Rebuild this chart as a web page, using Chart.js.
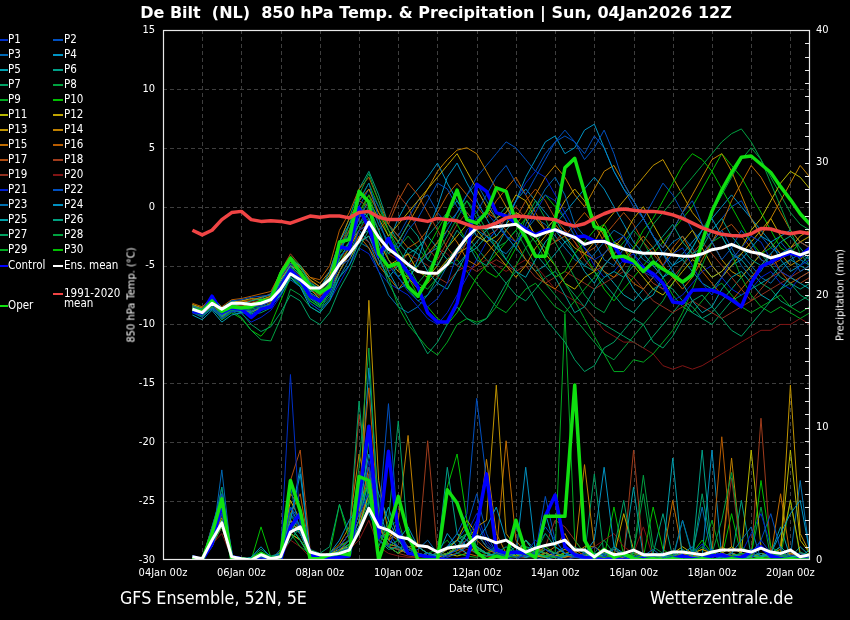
<!DOCTYPE html>
<html>
<head>
<meta charset="utf-8">
<title>De Bilt 850 hPa Temp. &amp; Precipitation</title>
<script src="https://cdn.jsdelivr.net/npm/chart.js@4.4.1/dist/chart.umd.min.js"></script>
<style>
html,body{margin:0;padding:0;background:#000;}
#wrap{position:relative;width:850px;height:620px;background:#000;overflow:hidden;}
#chart{position:absolute;left:0;top:0;}
.txt{position:absolute;white-space:pre;color:#fff;line-height:1;font-family:'DejaVu Sans Condensed','DejaVu Sans',sans-serif;}
#title{font:bold 16px 'DejaVu Sans',sans-serif;left:436px;top:3px;transform:translateX(-50%);}
#ytitleL,#ytitleR{font-size:11px;transform:translate(-50%,-50%) rotate(-90deg);}
#ytitleL{left:131px;top:295px;}
#ytitleR{left:840px;top:295px;}
#xtitle{font-size:11px;left:476px;top:583px;transform:translateX(-50%);}
#foot1{font-size:17.7px;left:120px;top:590px;}
#foot2{font-size:17.7px;left:650px;top:590px;}
.leg{position:absolute;font-size:11.5px;font-family:'DejaVu Sans Condensed','DejaVu Sans',sans-serif;color:#fff;white-space:pre;line-height:12px;}
.legline{position:absolute;height:2px;}
</style>
</head>
<body>
<div id="wrap">
<canvas id="chart" width="850" height="620"></canvas>
<div id="title" class="txt">De Bilt  (NL)  850 hPa Temp. &amp; Precipitation | Sun, 04Jan2026 12Z</div>
<div id="ytitleL" class="txt">850 hPa Temp. (°C)</div>
<div id="ytitleR" class="txt">Precipitation (mm)</div>
<div id="xtitle" class="txt">Date (UTC)</div>
<div id="foot1" class="txt">GFS Ensemble, 52N, 5E</div>
<div id="foot2" class="txt">Wetterzentrale.de</div>
<div id="legend"></div>
</div>
<script>
// ---------- time axis (hours after 04Jan 00z) ----------
const hours = [18,24,30,36,42,48,54,60,66,72,78,84,90,96,102,108,114,120,126,132,138,144,150,156,162,168,174,180,186,192,198,204,210,216,222,228,234,240,246,252,258,264,270,276,282,288,294,300,306,312,318,324,330,336,342,348,354,360,366,372,378,384,390,396];
const xTickLabels = ['04Jan 00z','06Jan 00z','08Jan 00z','10Jan 00z','12Jan 00z','14Jan 00z','16Jan 00z','18Jan 00z','20Jan 00z'];

// ---------- main series: 850 hPa temperature (°C) ----------
const operTemp = [-8.7,-8.9,-8.0,-8.9,-8.5,-8.6,-8.5,-8.0, -7.9,-5.7,-4.4,-5.6,-6.8,-7.3,-6.8,-3.0, -2.8,1.3,0.4,-4.0,-5.1,-4.8,-6.8,-7.6, -6.2,-3.9,-0.7,1.4,-1.1,-1.4,-0.5,1.6, 1.3,-1.3,-2.6,-4.2,-4.2,-1.2,3.3,4.1, 1.2,-1.7,-2.0,-4.3,-4.2,-4.6,-5.5,-4.7, -5.3,-5.8,-6.4,-5.8,-3.0,-0.4,1.4,2.9, 4.2,4.3,3.6,2.9,1.7,0.6,-0.6,-1.5];
const controlTemp = [-8.9,-9.0,-7.6,-9.0,-8.6,-8.7,-9.4,-8.7, -8.5,-6.9,-5.4,-6.2,-7.6,-8.0,-7.0,-3.4, -3.6,-0.1,-1.8,-4.2,-2.7,-4.5,-5.6,-6.8, -9.0,-9.8,-9.8,-8.2,-4.5,1.9,1.3,-0.5, -0.8,-1.4,-1.9,-2.4,-2.0,-1.95,-2.3,-2.6, -2.5,-2.9,-2.95,-3.3,-4.6,-4.75,-5.2,-5.7, -6.5,-8.1,-8.2,-7.1,-7.05,-7.1,-7.4,-7.9, -8.5,-6.5,-5.1,-4.7,-4.25,-3.95,-4.2,-3.5];
const meanTemp = [-8.7,-9.0,-8.2,-8.7,-8.2,-8.2,-8.3,-8.2, -7.9,-7.0,-5.7,-6.2,-6.9,-6.9,-6.2,-4.9, -4.0,-2.9,-1.3,-2.6,-3.6,-4.2,-4.9,-5.5, -5.65,-5.65,-4.9,-3.7,-2.6,-1.8,-1.75,-1.7, -1.6,-1.5,-2.1,-2.5,-2.2,-1.95,-2.3,-2.6, -3.2,-2.95,-2.95,-3.3,-3.6,-3.8,-3.95,-3.95, -4.0,-4.1,-4.2,-4.2,-4.0,-3.65,-3.5,-3.2, -3.55,-3.85,-4.0,-4.35,-4.1,-3.8,-4.1,-3.8];
const climTemp = [-2.0,-2.4,-2.0,-1.1,-0.5,-0.4,-1.1,-1.25, -1.2,-1.25,-1.4,-1.1,-0.8,-0.9,-0.8,-0.8, -0.95,-0.5,-0.4,-0.9,-1.1,-1.1,-0.95,-1.1, -1.25,-1.0,-1.1,-1.2,-1.5,-1.8,-1.7,-1.4, -0.95,-0.8,-0.85,-0.95,-1.0,-1.1,-1.45,-1.65, -1.45,-1.0,-0.6,-0.3,-0.2,-0.3,-0.4,-0.4, -0.5,-0.7,-1.0,-1.4,-1.8,-2.1,-2.35,-2.45, -2.5,-2.3,-1.85,-1.9,-2.15,-2.3,-2.15,-2.3];

// ---------- main series: 6-hourly precipitation (mm) ----------
const operPrec = [0.2,0,2.0,4.6,0.1,0.1,0,0.5, 0.1,0.25,6.0,3.7,0.1,0.1,0.4,0.5, 0.4,6.3,6.0,0,2.2,4.8,2.0,0, 0,0,5.3,4.3,2.2,0.6,0,0.3, 0.1,3.0,0.6,0.2,3.3,3.3,3.3,13.2, 1.5,0.2,0.8,0.2,0.5,0.1,0,0.1, 0,0.1,0,0,0.1,0,0,0.1, 0,0,0.1,0,0,0.1,0,0];
const controlPrec = [0.25,0,1.2,4.3,0.25,0.1,0,0, 0,0,2.5,3.5,0.4,0.1,0.1,0.2, 0.3,4.8,10.1,1.7,8.2,2.0,0.5,0.4, 0.25,0.1,0,0,0.1,2.5,6.5,0.75, 0.5,0.6,0.5,0.3,3.3,4.9,1.0,0.4, 0.2,0.1,0,0.1,0,0,0.1,0, 0,0.1,0.3,0.1,0.1,0.3,0.4,0.1, 0.2,0.6,1.0,0.3,0.1,0,0.1,0];
const meanPrec = [0.25,0.1,1.5,2.8,0.25,0.1,0,0.4, 0.1,0.25,2.1,2.5,0.6,0.4,0.4,0.5, 0.75,2.2,3.9,2.5,2.25,1.75,1.6,1.1, 1.0,0.6,0.9,1.0,1.1,1.75,1.6,1.3, 1.5,1.0,0.6,0.9,1.1,1.25,1.5,0.75, 0.75,0.25,0.75,0.4,0.5,0.75,0.4,0.4, 0.4,0.6,0.6,0.5,0.4,0.6,0.75,0.75, 0.75,0.6,0.9,0.6,0.5,0.75,0.25,0.4];

// ---------- ensemble members: temperature (°C) ----------
const T_P1 = [-8.8,-9.2,-8.3,-9.5,-8.9,-8.8,-8.6,-8.4, -8.0,-6.5,-5.2,-6.0,-7.5,-8.2,-7.2,-5.0, -4.5,-2.0,-1.5,-3.5,-5.0,-6.0,-7.2,-8.0, -8.5,-7.8,-6.5,-4.0,-2.0,-1.0,-0.5,-1.5, -2.5,-3.0,-2.0,-0.5,1.0,0.5,-1.0,-2.5, -3.5,-4.5,-4.0,-3.0,-2.5,-4.0,-5.5,-6.0, -5.0,-4.0,-3.5,-5.0,-6.5,-7.5,-6.0,-4.5, -3.5,-2.5,-3.0,-4.5,-5.5,-6.0,-5.0,-4.5];
const T_P2 = [-8.5,-8.8,-7.8,-8.8,-8.0,-7.9,-7.7,-7.6, -7.5,-6.0,-4.8,-5.5,-6.8,-7.4,-6.6,-4.2, -3.5,-1.0,0.5,-1.5,-3.0,-3.5,-2.0,-1.0, 0.5,2.0,1.5,0.0,-1.0,-0.5,1.0,2.5, 3.5,2.0,1.0,2.5,4.0,5.5,6.0,5.5, 4.0,5.0,6.5,4.5,2.0,0.5,-1.0,-2.5, -3.5,-2.0,-0.5,0.5,-1.5,-3.0,-4.5,-3.5, -2.0,-3.0,-4.5,-5.0,-4.0,-3.5,-4.5,-5.0];
const T_P3 = [-9.0,-9.4,-8.6,-9.2,-8.5,-8.7,-8.9,-8.5, -8.3,-7.2,-5.8,-6.4,-7.8,-8.0,-6.5,-3.5, -2.5,0.5,2.0,-1.0,-3.5,-4.5,-5.5,-5.0, -4.0,-3.5,-2.0,-0.5,1.0,2.0,0.5,-1.0, -2.5,-3.5,-1.5,0.0,1.5,2.5,1.0,-1.5, -2.5,-3.0,-4.5,-5.0,-3.5,-2.0,-1.0,-2.5, -4.0,-5.5,-6.5,-5.5,-4.0,-3.0,-2.0,-3.5, -5.0,-6.0,-5.5,-4.0,-3.0,-4.0,-5.5,-5.0];
const T_P4 = [-8.6,-9.0,-8.0,-8.9,-8.4,-8.2,-8.3,-8.1, -7.8,-6.4,-5.0,-5.8,-7.2,-7.0,-5.5,-3.0, -1.5,0.0,-1.0,-3.0,-5.5,-7.0,-6.5,-4.5, -2.0,0.0,2.5,3.7,2.0,0.5,-1.0,-2.5, -1.5,0.5,2.5,4.0,5.5,6.0,4.5,5.0, 6.5,7.0,5.0,3.0,1.5,0.5,-1.0,-2.5, -4.0,-5.0,-4.5,-3.5,-2.0,-1.0,-2.5,-4.0, -4.5,-3.5,-2.5,-3.0,-4.5,-5.5,-5.0,-4.0];
const T_P5 = [-9.2,-9.6,-8.8,-9.8,-9.2,-9.0,-9.1,-8.8, -8.5,-7.5,-6.0,-6.8,-8.5,-9.0,-8.0,-6.0, -5.0,-3.0,-2.5,-4.5,-6.0,-5.0,-3.5,-4.0, -5.5,-6.5,-7.0,-5.5,-4.0,-3.5,-2.5,-3.0, -4.5,-5.5,-6.0,-4.5,-3.0,-2.0,-3.0,-4.0, -5.5,-6.5,-5.0,-4.0,-5.5,-7.0,-8.0,-7.5, -6.0,-5.5,-6.5,-8.0,-9.0,-8.5,-7.0,-6.0, -5.5,-6.5,-7.5,-8.0,-7.0,-6.0,-6.5,-7.0];
const T_P6 = [-8.4,-8.7,-7.6,-8.6,-8.0,-8.3,-8.0,-7.8, -7.4,-5.8,-4.5,-5.0,-6.5,-7.0,-6.0,-4.5, -3.0,-1.5,0.0,-2.0,-4.0,-3.0,-1.5,-2.5, -4.5,-5.0,-3.5,-2.0,-3.0,-4.5,-5.0,-3.5, -2.0,-1.0,-2.5,-4.0,-5.0,-6.0,-7.5,-9.0, -8.5,-7.0,-6.0,-5.5,-6.0,-5.0,-4.0,-3.5, -2.5,-1.5,-3.0,-4.0,-3.5,-2.0,-1.0,-2.5, -3.5,-4.5,-5.0,-4.0,-3.0,-2.5,-3.5,-4.5];
const T_P7 = [-8.7,-9.1,-8.4,-9.4,-8.7,-9.0,-10.0,-10.6, -10.2,-9.0,-7.5,-8.0,-9.5,-10.0,-9.0,-7.0, -5.5,-3.5,-2.0,-4.0,-6.5,-8.0,-9.5,-11.0, -12.5,-11.5,-10.0,-8.5,-9.5,-10.0,-9.5,-8.0, -6.5,-5.5,-6.5,-8.0,-9.5,-10.5,-11.5,-13.0, -14.0,-13.5,-12.0,-11.5,-10.5,-9.5,-10.0,-11.5, -12.0,-11.0,-9.5,-8.0,-7.5,-8.5,-9.5,-10.5, -11.0,-10.0,-9.0,-8.0,-7.0,-6.5,-7.5,-8.0];
const T_P8 = [-8.9,-9.3,-8.5,-9.1,-8.8,-9.4,-10.5,-11.3, -11.4,-9.5,-7.0,-7.5,-8.5,-9.0,-7.0,-4.0, -1.5,1.0,2.8,0.5,-2.0,-3.5,-5.0,-6.5, -5.5,-4.0,-2.5,-1.0,0.5,-0.5,-2.0,-3.5, -4.5,-3.0,-1.0,0.5,-1.0,-3.0,-4.5,-6.0, -7.5,-8.5,-9.0,-7.5,-6.0,-4.5,-3.0,-1.5, -0.5,0.5,1.5,2.5,3.5,4.5,5.5,6.2, 6.6,5.5,4.0,2.0,0.0,-2.0,-4.0,-5.0];
const T_P9 = [-8.6,-9.0,-8.2,-9.0,-8.4,-8.5,-8.4,-8.2, -8.0,-6.0,-4.2,-5.0,-6.6,-7.2,-6.2,-4.0, -3.0,-1.5,-1.0,-3.5,-6.0,-8.5,-10.0,-11.0, -12.0,-12.6,-11.5,-10.0,-9.5,-9.8,-9.5,-8.5, -7.0,-5.0,-3.5,-2.5,-3.5,-5.0,-6.5,-8.0, -9.5,-11.0,-12.5,-14.0,-14.0,-13.0,-13.2,-12.5, -11.5,-10.5,-9.0,-7.0,-5.0,-3.0,-2.5,-4.0, -6.0,-7.5,-8.5,-9.0,-8.5,-9.0,-9.5,-9.0];
const T_P10 = [-8.8,-9.2,-8.4,-9.6,-9.0,-9.5,-10.5,-11.0, -10.0,-8.0,-6.0,-6.6,-8.0,-8.5,-7.0,-4.5, -3.0,-0.5,1.0,-1.5,-3.0,-4.5,-6.0,-5.0, -3.5,-2.0,-0.5,-1.5,-3.0,-4.0,-5.5,-6.0, -5.0,-3.5,-2.0,-3.0,-4.5,-6.0,-5.5,-4.0, -3.0,-2.0,-1.5,-3.0,-4.5,-3.5,-2.0,-1.0, 0.5,2.0,3.5,4.5,4.0,3.0,1.5,0.0, -1.5,-3.0,-4.0,-3.5,-2.5,-3.5,-4.5,-5.0];
const T_P11 = [-8.5,-8.9,-8.1,-8.8,-8.3,-8.5,-8.2,-8.0, -7.8,-6.2,-5.0,-5.5,-6.8,-7.5,-6.5,-5.0, -4.5,-3.0,-2.5,-4.0,-5.0,-4.5,-4.0,-5.5, -6.0,-5.0,-3.5,-2.5,-1.5,-2.0,-3.0,-2.5, -1.5,-0.5,-1.0,-2.5,-4.0,-5.0,-6.5,-7.0, -6.0,-5.5,-4.0,-3.0,-3.5,-5.0,-6.0,-7.0, -7.5,-6.5,-5.5,-4.5,-5.0,-6.0,-5.5,-4.5, -3.5,-2.0,-1.0,0.5,2.0,3.0,2.5,1.5];
const T_P12 = [-8.3,-8.6,-7.9,-8.7,-8.1,-8.0,-7.8,-7.9, -7.6,-5.5,-4.2,-5.2,-6.2,-6.8,-5.8,-3.5, -2.5,-1.0,0.5,-1.0,-2.5,-1.5,-0.5,0.5, 1.5,2.5,3.5,4.5,3.0,1.5,0.0,-1.0, -0.5,1.0,0.5,-1.0,-2.0,-1.0,0.5,1.5, 0.5,-1.0,-2.5,-3.5,-2.5,-1.0,0.0,-1.5, -3.0,-4.0,-3.0,-2.0,-3.5,-5.0,-6.0,-5.0, -4.0,-3.0,-2.0,-1.0,-2.5,-3.5,-2.5,-2.0];
const T_P13 = [-8.6,-9.1,-8.5,-9.4,-8.7,-8.8,-8.9,-8.6, -8.2,-7.0,-5.5,-6.0,-7.0,-7.8,-6.8,-4.8, -3.5,-2.0,-1.5,-3.0,-4.5,-5.5,-6.0,-7.0, -6.5,-5.5,-4.5,-4.0,-3.5,-2.5,-3.0,-4.0, -5.0,-6.0,-5.0,-3.5,-2.5,-1.5,-2.5,-3.5, -4.0,-3.0,-1.5,-0.5,0.5,1.5,2.5,3.5, 4.0,2.5,1.0,-0.5,-1.5,-3.0,-4.5,-5.5, -6.0,-5.0,-4.0,-3.0,-4.0,-5.0,-4.5,-3.5];
const T_P14 = [-8.4,-8.8,-7.9,-8.8,-8.2,-8.1,-8.0,-7.7, -7.5,-5.8,-4.8,-5.0,-6.0,-6.5,-5.5,-3.0, -1.0,0.5,1.5,-0.5,-2.0,-3.0,-1.5,0.0, 1.5,3.0,4.0,4.8,5.0,4.5,3.0,1.5, 0.0,-1.5,-0.5,1.0,2.5,3.5,2.5,1.0, 0.0,1.5,3.0,3.5,2.0,0.5,-1.0,-2.5, -3.5,-2.0,-0.5,1.0,2.5,4.0,4.5,3.0, 1.0,-1.0,-2.5,-1.0,0.5,2.0,3.5,2.5];
const T_P15 = [-8.7,-9.0,-8.3,-9.2,-8.6,-8.6,-8.4,-8.3, -8.0,-6.8,-5.4,-6.2,-7.4,-8.0,-7.0,-5.5, -4.0,-2.5,-3.5,-5.0,-6.0,-7.0,-6.0,-5.0, -4.0,-3.0,-2.0,-3.0,-4.5,-5.0,-4.0,-3.0, -2.0,-3.0,-4.5,-5.5,-6.5,-7.0,-6.0,-5.0, -4.0,-4.5,-5.5,-6.0,-5.0,-3.5,-2.5,-3.5, -5.0,-6.0,-7.0,-6.0,-4.5,-3.0,-1.5,0.5, 2.0,3.5,2.5,1.0,-0.5,-2.0,-3.0,-2.5];
const T_P16 = [-8.2,-8.5,-7.7,-8.5,-7.9,-7.8,-7.6,-7.4, -7.2,-5.6,-4.5,-5.0,-6.0,-6.2,-5.0,-2.0, -0.5,1.5,2.5,0.5,-1.5,-2.5,-3.5,-3.0, -2.0,-0.5,1.0,2.0,1.0,0.0,-1.0,0.5, 1.5,2.5,1.0,-0.5,-2.0,-3.0,-2.5,-1.5, -0.5,-1.5,-3.0,-4.5,-5.5,-6.5,-7.0,-6.0, -5.0,-3.5,-2.5,-4.0,-5.5,-6.5,-7.5,-8.0, -7.0,-6.0,-5.0,-4.0,-5.5,-6.5,-6.0,-5.5];
const T_P17 = [-8.5,-8.8,-8.0,-8.9,-8.4,-8.2,-8.4,-8.0, -7.6,-6.0,-4.6,-5.4,-6.6,-7.2,-6.0,-3.5, -2.0,-0.5,1.0,-0.5,-1.5,0.5,2.0,1.0, -0.5,-2.0,-3.5,-4.5,-3.0,-1.5,-0.5,-1.0, -2.0,-1.0,0.5,1.5,0.5,-1.0,-2.0,-3.0, -4.0,-3.5,-2.5,-1.5,-0.5,-1.5,-3.0,-4.0, -5.0,-6.0,-6.5,-5.5,-4.0,-3.0,-2.0,-1.5, -2.5,-3.5,-4.5,-5.0,-4.5,-3.5,-3.0,-3.5];
const T_P18 = [-8.3,-8.7,-7.8,-8.7,-8.2,-8.0,-7.9,-7.7, -7.4,-5.5,-4.0,-5.0,-6.3,-6.8,-6.0,-3.5, -1.5,0.5,0.0,-2.0,-1.0,1.0,0.0,-2.0, -3.5,-4.5,-3.0,-1.5,-0.5,-1.5,-2.5,-2.0, -1.0,0.0,-1.0,-2.5,-3.5,-3.0,-2.0,-3.0, -4.5,-5.5,-5.0,-4.0,-3.5,-4.5,-5.5,-6.5, -7.0,-6.0,-5.0,-4.0,-3.0,-4.0,-5.0,-6.0, -7.0,-8.0,-7.0,-6.0,-5.5,-6.0,-6.5,-6.0];
const T_P19 = [-8.6,-8.9,-8.2,-9.1,-8.5,-8.4,-8.5,-8.3, -8.1,-6.6,-5.2,-5.9,-7.0,-7.6,-6.8,-5.0, -4.0,-2.5,-3.0,-4.5,-5.5,-5.0,-4.0,-4.5, -5.0,-6.0,-6.5,-5.5,-5.0,-5.5,-5.0,-4.5, -5.0,-5.5,-5.0,-6.0,-6.5,-6.0,-5.5,-6.0, -6.5,-7.0,-6.5,-6.0,-5.5,-6.0,-7.0,-8.0, -8.5,-9.0,-8.5,-8.0,-8.5,-9.0,-9.5,-9.0, -8.5,-8.0,-7.5,-7.0,-6.5,-6.0,-5.5,-5.0];
const T_P20 = [-8.4,-8.8,-8.0,-8.8,-8.3,-8.3,-8.1,-7.9, -7.7,-6.2,-4.8,-5.6,-6.8,-7.3,-6.2,-4.5, -3.5,-2.0,-1.0,-2.5,-4.0,-4.5,-5.0,-4.5, -4.0,-3.5,-4.0,-5.0,-5.5,-5.0,-4.5,-5.0, -5.5,-5.0,-4.5,-5.0,-6.0,-7.0,-7.5,-8.0, -8.5,-9.5,-10.5,-11.0,-11.5,-11.5,-12.0,-12.5, -13.5,-13.8,-13.5,-13.8,-13.5,-13.0,-12.5,-12.0, -11.5,-11.0,-10.5,-10.5,-10.0,-10.0,-9.5,-10.0];
const T_P21 = [-8.9,-9.3,-8.5,-9.6,-9.0,-9.1,-9.8,-9.4, -8.8,-7.6,-6.0,-6.5,-8.2,-8.8,-8.0,-6.5, -5.0,-3.5,-4.0,-5.5,-6.5,-7.0,-7.5,-8.5, -9.5,-10.0,-9.0,-7.5,-6.0,-4.5,-3.0,-2.0, -1.0,0.5,2.0,3.0,2.5,1.0,-0.5,-2.0, -3.5,-5.0,-6.0,-5.5,-4.5,-4.0,-5.0,-6.0, -7.0,-8.0,-7.5,-6.5,-5.5,-5.0,-6.0,-7.0, -7.5,-7.0,-6.0,-5.5,-6.5,-7.0,-6.0,-5.5];
const T_P22 = [-8.6,-9.0,-8.2,-9.0,-8.4,-8.6,-8.3,-8.2, -7.9,-6.3,-4.9,-5.5,-6.9,-7.4,-6.4,-4.0, -2.0,0.0,1.5,0.0,-1.5,-2.5,-1.0,0.5, 1.0,-0.5,-1.5,-0.5,1.0,2.5,3.5,4.5, 5.5,5.0,4.0,3.0,4.5,5.5,6.5,5.5, 4.5,6.0,5.0,3.0,1.5,0.0,-1.0,0.5, 2.0,1.0,-0.5,-2.0,-3.0,-2.0,-1.0,0.0, 0.5,-1.0,-2.5,-3.5,-4.0,-3.5,-3.0,-3.5];
const T_P23 = [-8.8,-9.3,-8.7,-9.5,-8.8,-9.0,-8.8,-8.7, -8.4,-7.4,-6.2,-6.8,-8.0,-8.6,-7.6,-6.0, -4.5,-3.0,-3.5,-5.5,-7.5,-8.5,-9.0,-8.5, -7.5,-6.5,-5.0,-4.0,-3.0,-2.0,-2.5,-3.5, -4.0,-3.0,-2.0,-1.0,-1.5,-2.5,-3.5,-4.5, -5.0,-4.0,-3.0,-2.0,-2.5,-3.5,-4.5,-5.0, -4.0,-3.0,-2.5,-3.5,-5.0,-6.0,-5.5,-4.5, -4.0,-5.0,-6.0,-6.5,-5.5,-4.5,-4.0,-4.5];
const T_P24 = [-8.7,-9.1,-8.3,-9.3,-8.6,-8.7,-8.5,-8.4, -8.1,-6.7,-5.3,-6.0,-7.3,-7.8,-6.8,-4.5, -3.0,-2.0,-3.0,-5.0,-3.0,-1.0,0.5,1.5, 2.5,3.7,2.0,0.5,-1.0,-2.5,-3.0,-2.0, -1.0,0.5,1.5,0.5,-0.5,-1.5,-0.5,0.5, 1.5,2.5,1.5,0.0,-1.5,-3.0,-4.0,-5.0, -6.0,-5.0,-4.0,-3.0,-2.0,-1.0,0.0,1.0, 0.0,-1.0,-2.0,-3.0,-2.5,-2.0,-3.0,-3.5];
const T_P25 = [-8.9,-9.2,-8.6,-9.5,-8.9,-8.9,-9.0,-8.6, -8.4,-7.0,-5.8,-6.5,-7.8,-8.4,-7.4,-5.5, -4.0,-2.5,-2.0,-3.5,-5.0,-6.0,-5.0,-3.5, -2.5,-3.5,-4.5,-5.0,-4.0,-3.0,-2.0,-1.5, -2.5,-3.5,-4.5,-5.5,-5.0,-4.0,-3.0,-2.5, -3.5,-4.5,-5.5,-6.5,-7.5,-8.0,-7.0,-6.0, -5.0,-4.0,-4.5,-5.5,-6.5,-7.0,-6.0,-5.0, -4.5,-5.5,-6.5,-6.0,-5.0,-4.5,-5.0,-5.5];
const T_P26 = [-8.5,-8.9,-8.1,-9.0,-8.5,-8.4,-8.6,-8.2, -7.8,-6.1,-4.6,-5.2,-6.4,-7.0,-5.8,-3.0, -1.0,1.5,3.0,1.0,-1.5,-3.0,-4.0,-3.5, -2.5,-1.5,-0.5,0.5,-0.5,-1.5,-2.0,-1.0, 0.0,-1.0,-2.0,-3.0,-2.0,-1.0,-2.5,-4.0, -5.0,-5.5,-6.5,-7.5,-8.5,-9.0,-8.0,-7.0, -6.5,-7.0,-8.0,-9.0,-9.5,-9.0,-8.0,-7.0, -6.0,-5.0,-4.0,-5.0,-6.0,-6.5,-7.0,-6.5];
const T_P27 = [-8.7,-9.0,-8.4,-9.2,-8.7,-8.9,-9.2,-9.0, -8.6,-7.2,-6.0,-6.8,-8.2,-8.8,-7.8,-5.5, -4.0,-2.0,-0.5,-2.0,-4.5,-6.0,-7.0,-8.0, -7.5,-6.0,-4.5,-3.5,-2.5,-3.5,-4.5,-5.5, -6.5,-7.5,-8.0,-7.0,-6.0,-5.5,-6.5,-7.5, -8.5,-9.5,-10.0,-10.5,-11.0,-11.5,-12.0,-11.0, -10.0,-9.0,-8.0,-8.5,-9.5,-10.0,-9.0,-8.0, -7.5,-7.0,-6.5,-7.0,-8.0,-8.5,-8.0,-7.5];
const T_P28 = [-8.8,-9.2,-8.5,-9.3,-8.7,-8.8,-8.7,-8.5, -8.3,-6.9,-5.5,-6.2,-7.6,-8.2,-7.2,-5.0, -3.5,-1.5,-0.5,-2.5,-4.0,-3.5,-2.5,-3.5, -4.5,-3.0,-1.5,-0.5,0.5,-1.0,-2.5,-3.5, -3.0,-2.0,-3.5,-5.0,-6.5,-7.5,-8.5,-9.5, -10.5,-11.5,-12.5,-13.0,-12.0,-11.0,-10.0,-9.0, -8.0,-6.5,-5.0,-3.5,-2.0,-0.5,1.0,2.5, 4.0,5.0,4.0,2.5,1.0,-0.5,-1.5,-2.0];
const T_P29 = [-8.6,-9.0,-8.2,-9.1,-8.6,-8.6,-8.5,-8.3, -8.1,-6.5,-5.1,-5.8,-7.1,-7.6,-6.7,-4.5, -3.0,-1.0,1.0,-0.5,-2.5,-4.0,-5.5,-6.5, -7.0,-6.0,-5.0,-4.5,-5.5,-6.5,-7.5,-8.5, -9.0,-8.0,-7.0,-6.5,-7.5,-8.5,-9.0,-8.0, -7.0,-6.0,-5.0,-4.0,-3.0,-2.0,-3.0,-4.5, -6.0,-7.5,-8.5,-9.0,-8.0,-7.0,-6.5,-7.5, -8.5,-9.0,-8.5,-8.0,-7.5,-8.5,-9.0,-8.5];
const T_P30 = [-8.8,-9.1,-8.3,-9.4,-8.8,-8.9,-8.9,-8.6, -8.3,-7.0,-5.6,-6.4,-7.7,-8.3,-7.0,-4.0, -2.0,0.5,2.0,0.0,-2.0,-4.0,-6.0,-7.5, -8.5,-9.5,-10.0,-9.0,-7.5,-6.0,-5.0,-4.0, -3.0,-2.0,-1.0,0.0,1.0,0.0,-1.0,-2.5, -4.0,-5.5,-7.0,-8.0,-7.0,-6.0,-5.0,-4.0, -3.0,-2.0,-1.0,0.0,1.5,3.0,4.5,3.5, 2.5,1.0,-0.5,-2.0,-3.5,-4.0,-3.0,-2.5];

// ---------- ensemble members: precipitation (mm / 6 h) ----------
const R_P1 = [0.2,0,1.5,3.5,0.2,0,0,0.4, 0,0.5,14.0,2.5,0.3,0.2,0.5,1.0, 2.0,3.5,5.0,1.5,1.0,2.5,0.8,0.4, 0.2,0,0.3,0.8,1.5,3.0,1.2,0.5, 0.2,0,0.5,1.5,0.8,0.3,0,0.2, 0.5,1.0,0.3,0,0,0.2,0.5,0.3, 0,0,0.2,0.5,1.2,0.4,0,0.2, 0.3,0,1.5,0.5,0,0.3,0.5,0.2];
const R_P2 = [0.3,0,2.5,5.0,0.3,0,0,0.2, 0.1,0.3,4.0,3.0,0.2,0,0.3,0.8, 1.5,5.0,7.0,3.0,11.8,2.0,1.0,0.3, 0.5,0.2,1.0,2.0,3.5,12.2,6.0,1.0, 0.5,0.2,0.3,1.0,2.5,1.5,0.5,0.2, 0.1,0,0.3,0.8,0.2,0,0,0.3, 0.5,0.2,0,0,0.3,0.8,0.2,0, 0,0.5,1.5,3.5,0.8,0.2,0,0.3];
const R_P3 = [0.1,0,1.2,6.8,0.2,0,0,0.3, 0,0.8,5.5,2.0,0.5,0.3,0.2,0.5, 1.0,2.5,4.0,2.0,1.5,1.0,0.5,0.8, 1.5,0.5,0.2,0.5,1.0,2.0,1.0,0.5, 0.3,2.5,0.8,0.2,0,0.5,1.0,0.3, 0,0.2,0.5,0.2,0,0,0.3,0.8, 0.2,0,3.0,0.5,0.3,0,0.2,0.5, 1.5,2.5,0,0.2,0.4,0.2,0,0.2];
const R_P4 = [0.2,0,1.8,4.0,0.3,0,0.2,1.0, 0.2,0.5,3.0,6.5,0.5,0.2,0.5,1.5, 3.0,4.0,8.0,5.0,3.0,1.5,2.5,1.0, 0.5,0.3,2.0,1.0,0.5,1.5,2.5,4.0, 1.5,0.5,0.2,0.5,3.5,1.0,0.5,0.2, 0.5,1.5,7.0,1.0,0.3,0,0.2,0.5, 0.3,0,0.5,1.0,0.2,0,0.3,0.5, 0.2,0.8,0.3,0.5,2.0,3.5,4.5,0.5];
const R_P5 = [0.2,0.1,1.0,3.0,0.1,0,0,0.2, 0,0.4,2.0,3.5,0.3,0,0.2,0.4, 1.0,6.0,3.5,2.0,4.0,1.5,0.5,0.3, 0.2,0,0.4,0.8,2.0,1.0,0.5,0.3, 0.2,0.5,1.5,0.5,0.2,0,0.3,0.5, 0.2,0.5,0.3,1.0,0.5,0.2,0,0.3, 0.5,7.7,0,0.2,0.4,0.3,0.2,0, 0,0.3,0.2,0.5,1.0,0.3,0.2,0.8];
const R_P6 = [0.3,0,2.0,3.8,0.2,0,0,0.5, 0.1,0.3,2.5,1.5,0.2,0.1,0.3,0.6, 1.2,3.0,9.0,1.5,0.8,1.0,0.5,0.3, 0.5,0.3,7.0,2.0,1.0,0.5,0.3,0.5, 1.0,0.5,0.2,0.3,0.8,0.5,0.3,1.0, 0.5,0.2,0.1,0.3,0.5,0.2,0.1,0, 0.3,0.2,0.8,0.3,8.3,0.5,0.2,0.1, 0,0.3,0.5,0.2,0.1,0.3,0.2,0];
const R_P7 = [0.2,0,1.5,5.5,0.3,0,0.2,0.8, 0.3,0.5,1.5,2.5,0.8,0.5,1.0,4.2, 2.0,12.0,4.0,1.0,3.0,10.5,1.5,0.5, 0.3,0.5,1.0,2.0,1.5,0.8,0.5,0.3, 0.2,0.5,1.0,0.8,0.5,0.2,0.3,0.5, 0.3,0.2,0.5,0.8,4.5,0.2,0.5,0.3, 0.2,0.5,0.3,0.2,5.0,0.8,0.3,0.2, 0.5,0.1,0.2,0.4,0.3,0,0.6,0.3];
const R_P8 = [0.1,0,1.2,2.5,0.2,0,0,0.3, 0,0.3,3.5,2.0,0.3,0.1,0.2,0.8, 1.5,7.0,16.0,3.0,1.0,0.5,2.0,1.0, 0.5,0.3,0.5,1.0,2.0,0.8,0.5,0.3, 0.5,1.0,0.3,0.5,2.0,1.0,0.5,0.3, 0.2,0.5,1.5,0.5,0.3,0.5,6.4,1.0, 0.5,0.3,0.2,0.5,1.0,0.5,3.0,6.6, 1.0,0.5,0.3,0.2,0.5,0.3,0.2,0.5];
const R_P9 = [0.2,0,1.5,4.5,0.2,0,0,0.5, 0.1,0.5,2.0,1.0,0.5,0.2,0.3,0.6, 0.8,2.0,4.0,1.5,2.5,3.0,0.5,0.3, 0.5,0.8,1.5,0.5,0.3,0.2,0.5,1.0, 0.3,0.2,0.5,0.3,1.0,0.5,18.6,1.5, 0.5,0.3,0.2,0.1,0.3,0.5,0.2,0.3, 0.5,0.2,0.3,0.5,0.2,0.5,0.3,0.2, 0.5,0.3,0.2,0.5,0.3,0.2,0.1,0.3];
const R_P10 = [0.3,0,1.0,3.0,0.2,0,0,2.5, 0.2,0.3,2.5,1.5,0.5,0.3,0.5,1.0, 1.5,4.0,6.0,2.0,1.0,1.5,0.8,0.5, 0.3,0.2,5.5,8.0,3.0,1.0,0.5,0.3, 0.2,0.3,1.0,0.5,0.3,0.2,0.5,0.3, 0.2,0.5,0.3,0.2,0.5,0.3,0.2,4.0, 0.8,0.3,0.2,0.5,1.5,0.5,0.2,0.3, 0.5,0.2,6.0,1.0,0.5,0.2,0.3,0.5];
const R_P11 = [0.2,0,1.2,2.5,0.3,0,0,0.2, 0,0.2,2.0,1.5,0.3,0.2,0.5,0.8, 1.0,2.5,5.0,1.5,1.0,0.5,1.0,0.5, 0.3,0.2,0.5,0.3,0.5,1.0,0.5,0.3, 0.5,0.3,1.5,0.5,0.2,0.3,0.5,0.2, 0.3,0.2,0.5,0.8,0.3,0.2,0.5,0.3, 0.2,0.5,1.0,0.5,0.2,0.3,0.5,1.0, 0.5,8.3,1.0,0.5,1.0,8.3,1.5,0.5];
const R_P12 = [0.3,0,2.0,4.0,0.2,0,0.2,0.5, 0.2,0.5,4.5,3.0,0.5,0.3,0.5,1.0, 2.0,4.0,6.0,2.5,1.5,1.0,0.5,0.3, 0.5,0.3,0.8,1.5,3.0,2.0,1.0,0.5, 0.3,0.5,0.8,0.3,0.2,0.5,0.8,0.5, 0.3,0.5,0.2,0.3,3.5,0.8,0.3,0.2, 0.5,0.3,0.2,0.5,0.8,0.5,0.3,0.5, 0.2,0.5,0.3,0.5,0.8,4.5,0.5,0.3];
const R_P13 = [0.2,0,1.5,3.2,0.2,0,0,0.3, 0.1,0.4,3.0,2.0,0.3,0.2,0.4,0.6, 1.2,2.0,19.6,6.0,2.0,1.5,1.0,1.0, 0.5,0.3,0.5,0.8,1.5,2.5,3.0,13.2, 2.0,1.0,0.5,0.3,0.5,0.3,0.2,0.5, 1.0,1.0,0.5,0.3,0.2,0.5,0.3,0.2, 0.5,0.3,0.2,0.5,0.3,0.2,1.0,0.5, 0.3,0.2,0.5,0.3,0.5,13.2,2.0,0.5];
const R_P14 = [0.3,0,2.2,4.8,0.3,0,0.1,0.5, 0.2,0.6,5.0,4.0,0.5,0.3,0.5,1.2, 2.5,8.0,5.0,2.0,1.5,3.0,9.4,1.0, 0.5,0.3,0.5,1.0,2.0,1.5,7.6,2.0, 0.5,0.3,0.5,0.8,0.5,1.0,2.0,0.5, 7.2,1.0,0.5,0.3,0.5,0.2,0.3,0.5, 0.2,0.3,0.5,0.2,0.3,0.5,0.3,7.7, 0.5,0.3,0.2,0.5,0.3,0.5,0.3,0.2];
const R_P15 = [0.2,0,1.8,3.5,0.2,0,0,0.4, 0.1,0.3,2.5,2.5,0.4,0.2,0.3,0.7, 1.5,3.5,7.0,2.5,1.2,1.0,0.5,0.4, 0.3,0.2,0.5,0.7,1.0,1.5,0.8,0.5, 9.0,1.5,0.5,0.3,0.5,0.3,0.5,0.8, 0.3,0.5,0.3,0.2,0.5,0.3,0.2,0.5, 0.3,4.5,0.5,0.3,0.5,0.3,0.2,0.5, 0.3,0.5,0.2,0.3,5.0,0.2,0.3,0.5];
const R_P16 = [0.3,0,2.5,3.0,0.3,0,0,0.3, 0.2,0.5,3.5,5.0,0.5,0.2,0.5,1.0, 2.0,5.0,13.0,3.0,1.5,2.0,1.0,0.5, 0.3,0.5,0.8,1.0,0.5,0.3,0.5,0.8, 0.5,0.3,0.5,1.0,0.5,0.3,0.5,0.3, 0.5,0.3,0.2,0.5,0.3,0.5,0.2,0.3, 0.5,0.3,0.2,0.5,0.8,0.5,9.3,1.0, 0.5,0.3,0.2,0.5,0.3,0.5,0.2,0.3];
const R_P17 = [0.2,0,1.5,4.0,0.3,0,0,0.5, 0.1,0.5,6.0,8.3,0.8,0.3,0.5,1.0, 1.5,3.0,5.0,2.0,1.0,0.8,0.5,0.3, 0.5,0.3,0.5,1.0,1.5,1.0,0.5,0.3, 0.2,0.5,0.3,0.5,1.0,0.5,0.3,0.2, 0.5,0.3,0.8,0.5,0.3,0.5,0.3,0.2, 0.5,0.3,0.2,0.5,0.3,0.2,0.5,0.3, 0.2,0.5,0.3,0.2,0.5,0.3,0.2,0.5];
const R_P18 = [0.3,0,2.0,3.0,0.2,0,0,0.3, 0.2,0.4,3.0,2.5,0.5,0.3,0.4,0.8, 1.5,11.0,6.0,2.5,1.5,1.0,0.5,0.3, 9.0,0.5,0.3,0.5,1.0,0.8,0.5,0.3, 0.5,0.3,0.2,0.5,0.8,0.5,0.3,0.2, 0.5,0.3,0.5,0.2,0.3,8.3,0.5,0.3, 0.2,0.5,0.3,0.2,0.5,0.3,0.2,0.5, 0.3,0.2,10.7,0.5,0.3,0.2,0.5,0.3];
const R_P19 = [0.2,0,1.0,2.5,0.2,0,0,0.2, 0.1,0.3,2.0,1.5,0.3,0.2,0.3,0.5, 1.0,2.0,4.0,1.5,1.0,0.5,0.3,0.2, 0.5,0.3,0.5,0.8,1.0,0.5,0.3,0.2, 0.5,0.3,0.2,0.5,1.0,3.0,2.5,1.5, 0.5,0.3,0.2,0.5,0.3,0.2,0.5,0.3, 0.2,0.5,0.3,0.5,0.3,0.2,0.5,6.2, 0.3,0.2,0.5,0.3,0.2,0.5,0.3,0.2];
const R_P20 = [0.2,0,1.2,2.0,0.2,0,0,0.2, 0,0.2,1.5,1.0,0.2,0.1,0.2,0.4, 0.8,1.5,3.0,1.0,0.5,0.3,0.2,0.2, 0.3,0.2,0.3,0.5,0.8,0.5,0.3,0.2, 0.3,0.2,0.3,0.2,0.5,0.3,0.2,0.3, 0.5,1.0,1.5,2.0,1.0,0.5,2.5,0.2, 0.3,0.2,0.5,0.3,0.2,0.3,0.2,0.5, 0.3,0.2,0.3,0.2,0.5,0.3,0.2,0.3];
const R_P21 = [0.2,0,1.5,3.8,0.2,0,0,0.3, 0.1,0.5,4.0,2.0,0.4,0.2,0.3,0.8, 1.5,3.0,7.5,2.5,1.0,1.5,0.5,0.3, 0.3,0.2,0.5,1.0,2.0,3.5,1.5,0.5, 0.3,0.2,0.5,1.0,2.0,1.0,0.5,0.3, 0.2,0.5,0.3,0.2,0.5,0.3,0.2,0.5, 0.3,0.2,0.5,0.3,0.2,0.5,0.3,0.2, 0.5,2.0,3.5,1.0,0.5,0.3,0.2,0.5];
const R_P22 = [0.3,0,2.0,5.5,0.3,0,0.2,0.5, 0.2,0.5,3.5,2.5,0.5,0.3,0.5,1.0, 2.0,4.0,6.5,3.0,2.0,1.0,0.5,0.3, 0.5,0.3,0.8,1.5,2.5,5.0,2.0,0.5, 0.3,0.5,0.8,0.5,4.8,1.5,0.5,0.3, 0.2,0.3,0.5,0.2,0.3,0.5,0.2,0.3, 0.5,0.3,0.2,0.5,0.3,0.2,0.5,0.3, 0.2,0.5,0.3,0.2,0.5,0.3,0.2,0.3];
const R_P23 = [0.2,0,1.2,3.0,0.2,0,0,0.3, 0,0.3,2.5,2.0,0.3,0.2,0.3,0.6, 1.0,2.5,5.5,2.0,1.0,0.8,0.5,0.3, 0.3,0.2,0.5,0.8,1.5,1.0,0.5,0.3, 0.2,0.3,0.5,0.3,0.5,0.3,0.2,0.5, 0.3,0.2,0.5,0.3,0.2,0.5,0.3,0.2, 0.5,0.3,0.2,0.5,4.0,0.2,0.5,0.3, 0.5,0.3,0.2,0.5,0.3,0.2,6.0,0.3];
const R_P24 = [0.2,0,1.8,4.2,0.3,0,0,0.4, 0.1,0.4,3.0,7.0,0.5,0.3,0.4,0.8, 1.5,3.5,14.5,4.0,1.5,1.0,0.8,0.5, 0.3,0.5,1.0,1.5,1.0,0.5,0.3,0.5, 0.5,0.3,7.0,0.5,0.3,0.5,0.3,0.2, 0.5,0.3,0.2,0.5,0.3,0.2,0.5,0.3, 0.2,0.5,0.3,0.5,0.3,8.3,0.2,0.5, 0.3,0.2,0.5,0.3,0.2,0.5,0.3,0.2];
const R_P25 = [0.2,0,1.5,3.5,0.2,0,0,0.3, 0.1,0.5,4.0,2.5,0.4,0.2,0.3,0.7, 1.2,3.0,6.0,2.5,1.2,1.0,0.5,0.3, 0.5,0.3,0.5,1.0,2.0,1.0,0.5,0.3, 0.5,0.3,0.2,0.5,0.3,0.2,0.5,0.3, 0.2,0.5,0.3,0.2,0.5,5.5,0.2,0.5, 0.3,0.2,0.5,0.3,0.2,0.5,0.3,0.2, 0.5,0.3,0.2,0.5,2.5,0.2,1.0,0.3];
const R_P26 = [0.3,0,2.5,5.0,0.3,0,0.2,0.5, 0.2,0.5,3.0,2.0,0.5,0.3,0.5,1.0, 1.5,2.5,5.0,2.0,1.0,1.5,0.8,0.5, 0.3,0.5,1.0,1.5,1.0,0.5,0.3,0.5, 0.3,0.5,1.5,0.8,0.5,0.3,0.5,0.3, 0.2,0.5,0.3,0.2,0.5,0.3,0.2,0.5, 3.5,0.2,0.5,0.3,0.2,0.5,0.3,0.2, 4.5,0.3,0.2,0.5,0.3,0.2,0.5,0.3];
const R_P27 = [0.2,0,1.2,3.0,0.2,0,0,0.3, 0.1,0.3,2.0,1.5,0.3,0.2,0.3,0.6, 1.0,2.5,4.5,2.0,1.0,0.8,0.5,0.3, 0.3,0.5,0.8,1.0,1.5,0.8,0.5,0.3, 0.2,0.5,0.3,0.2,0.5,0.3,0.2,0.5, 0.3,6.5,0.3,0.2,0.5,0.3,0.2,0.5, 0.3,0.2,3.0,0.3,0.2,0.5,0.3,0.2, 0.5,0.3,0.2,0.5,0.3,0.2,0.5,0.3];
const R_P28 = [0.2,0,1.5,4.0,0.2,0,0.1,0.4, 0.1,0.4,3.0,2.0,0.4,0.2,0.3,0.8, 1.2,3.0,6.5,2.5,1.5,1.0,0.5,0.3, 0.5,0.3,0.8,1.5,2.0,1.0,0.5,0.3, 0.2,0.5,0.3,0.5,0.3,0.2,0.5,0.3, 0.2,0.3,0.5,0.3,0.2,0.5,5.0,0.2, 0.5,0.3,0.2,0.5,0.3,0.2,0.5,0.3, 0.2,0.5,4.0,0.2,0.5,0.3,0.2,0.5];
const R_P29 = [0.2,0,1.2,3.5,0.2,0,0,0.3, 0.1,0.3,2.5,1.5,0.3,0.2,0.3,0.6, 1.0,2.5,5.0,2.0,1.0,0.8,0.5,0.3, 0.3,0.2,0.5,0.8,1.5,0.8,0.5,0.3, 0.2,0.3,0.5,0.3,0.2,0.5,0.3,0.2, 0.5,0.3,0.2,0.5,0.3,0.2,0.5,0.3, 0.2,0.5,0.3,0.2,0.5,3.0,0.2,0.5, 0.3,0.2,0.5,0.3,0.2,4.5,0.3,0.2];
const R_P30 = [0.2,0,1.8,4.5,0.3,0,0.2,0.6, 0.2,0.5,3.0,2.0,0.5,0.3,0.5,4.2, 1.5,3.5,6.0,2.5,1.5,1.0,0.5,0.3, 0.5,0.3,0.8,1.5,2.0,1.0,0.5,0.3, 0.3,0.5,0.8,0.5,0.3,0.5,0.3,0.2, 0.5,0.3,0.2,4.0,0.3,0.2,0.5,0.3, 0.2,0.5,0.3,0.2,0.5,0.3,0.2,3.5, 0.3,0.2,0.5,0.3,0.2,0.5,0.3,0.2];

const memberNames = ['P1','P2','P3','P4','P5','P6','P7','P8','P9','P10','P11','P12','P13','P14','P15','P16','P17','P18','P19','P20','P21','P22','P23','P24','P25','P26','P27','P28','P29','P30'];
const memberTemps = [T_P1,T_P2,T_P3,T_P4,T_P5,T_P6,T_P7,T_P8,T_P9,T_P10,T_P11,T_P12,T_P13,T_P14,T_P15,T_P16,T_P17,T_P18,T_P19,T_P20,T_P21,T_P22,T_P23,T_P24,T_P25,T_P26,T_P27,T_P28,T_P29,T_P30];
const memberPrecs = [R_P1,R_P2,R_P3,R_P4,R_P5,R_P6,R_P7,R_P8,R_P9,R_P10,R_P11,R_P12,R_P13,R_P14,R_P15,R_P16,R_P17,R_P18,R_P19,R_P20,R_P21,R_P22,R_P23,R_P24,R_P25,R_P26,R_P27,R_P28,R_P29,R_P30];
const memberColors = ['#0030c8','#0050c0','#0068b4','#0094c4','#00a0b0','#00a088','#00a064','#00a040','#00a820','#00c000',
                      '#b8b800','#c0a400','#c09400','#c08000','#c06c00','#b85c00','#b04c10','#a03c1c','#903020','#801414',
                      '#0020d0','#0050c0','#0070b0','#0090c0','#00a0a8','#00a080','#00a060','#00a040','#00a820','#00c000'];
const COL_OPER = '#10e010', COL_CTRL = '#0000ff', COL_MEAN = '#ffffff', COL_CLIM = '#f04444';

// ---------- legend (HTML text) ----------
(function(){
  const lg = document.getElementById('legend');
  function item(lineX, lineW, textX, baseline, color, text){
    const l = document.createElement('div');
    l.className = 'legline';
    l.style.cssText = `left:${lineX}px;top:${baseline-4}px;width:${lineW}px;background:${color};`;
    lg.appendChild(l);
    const t = document.createElement('div');
    t.className = 'leg';
    t.style.cssText = `left:${textX}px;top:${baseline-10}px;`;
    t.textContent = text;
    lg.appendChild(t);
  }
  for (let r = 0; r < 15; r++) {
    const b = 42.7 + 15*r;
    item(0, 8, 8, b, memberColors[2*r], memberNames[2*r]);
    item(53, 10, 64, b, memberColors[2*r+1], memberNames[2*r+1]);
  }
  item(0, 8, 8, 269.3, COL_CTRL, 'Control');
  item(53, 10, 64, 269.3, COL_MEAN, 'Ens. mean');
  item(53, 10, 64, 296.7, COL_CLIM, '1991-2020');
  const m = document.createElement('div'); m.className='leg'; m.style.cssText='left:64px;top:296.7px;'; m.textContent='mean'; lg.appendChild(m);
  item(0, 8, 8, 309.3, COL_OPER, 'Oper');
})();

// ---------- datasets ----------
function pts(arr){ return hours.map((h,i)=>({x:h, y:arr[i]})); }
const base = {pointRadius:0, pointHoverRadius:0, tension:0, fill:false, borderCapStyle:'butt'};
const datasets = [];
datasets.push(Object.assign({label:'1991-2020 mean', data:pts(climTemp), yAxisID:'yT', borderColor:COL_CLIM, borderWidth:3.5, order:0, borderJoinStyle:'round'}, base));
datasets.push(Object.assign({label:'Ens. mean', data:pts(meanTemp), yAxisID:'yT', borderColor:COL_MEAN, borderWidth:3, order:1, borderJoinStyle:'round'}, base));
datasets.push(Object.assign({label:'Ens. mean precip', data:pts(meanPrec), yAxisID:'yP', borderColor:COL_MEAN, borderWidth:3, order:1, borderJoinStyle:'round'}, base));
datasets.push(Object.assign({label:'Oper', data:pts(operTemp), yAxisID:'yT', borderColor:COL_OPER, borderWidth:3.5, order:2, borderJoinStyle:'round'}, base));
datasets.push(Object.assign({label:'Oper precip', data:pts(operPrec), yAxisID:'yP', borderColor:COL_OPER, borderWidth:3.5, order:2, borderJoinStyle:'round'}, base));
datasets.push(Object.assign({label:'Control', data:pts(controlTemp), yAxisID:'yT', borderColor:COL_CTRL, borderWidth:3.5, order:3, borderJoinStyle:'round'}, base));
datasets.push(Object.assign({label:'Control precip', data:pts(controlPrec), yAxisID:'yP', borderColor:COL_CTRL, borderWidth:3.5, order:3, borderJoinStyle:'round'}, base));
memberNames.forEach((n,i)=>{
  datasets.push(Object.assign({label:n, data:pts(memberTemps[i]), yAxisID:'yT', borderColor:memberColors[i], borderWidth:1, order:10+i}, base));
  datasets.push(Object.assign({label:n+' precip', data:pts(memberPrecs[i]), yAxisID:'yP', borderColor:memberColors[i], borderWidth:1, order:10+i}, base));
});

// ---------- decorations: dashed grid, white frame, minor ticks ----------
const decor = {
  id:'decor',
  beforeDatasetsDraw(chart){
    const {ctx, chartArea:a, scales} = chart;
    const x = scales.x, yT = scales.yT;
    ctx.save();
    ctx.strokeStyle = '#3e3e3e'; ctx.lineWidth = 1; ctx.setLineDash([4,3]);
    ctx.beginPath();
    x.ticks.forEach(t=>{ if (t.value <= x.min || t.value >= x.max) return;
      const px = Math.round(x.getPixelForValue(t.value)) + 0.5; ctx.moveTo(px, a.top); ctx.lineTo(px, a.bottom); });
    yT.ticks.forEach(t=>{ if (t.value <= yT.min || t.value >= yT.max) return;
      const py = Math.round(yT.getPixelForValue(t.value)) + 0.5; ctx.moveTo(a.left, py); ctx.lineTo(a.right, py); });
    ctx.stroke();
    ctx.restore();
  },
  afterDatasetsDraw(chart){
    const {ctx, chartArea:a, scales} = chart;
    const yP = scales.yP;
    ctx.save();
    ctx.strokeStyle = '#e8e8e8'; ctx.lineWidth = 1.2; ctx.setLineDash([]);
    ctx.strokeRect(Math.round(a.left)+0.5, Math.round(a.top)+0.5, Math.round(a.right-a.left)-1, Math.round(a.bottom-a.top)-1);
    ctx.beginPath();
    for (let v = yP.min + 1; v < yP.max; v++) {
      const py = Math.round(yP.getPixelForValue(v)) + 0.5;
      ctx.moveTo(a.right - 5, py); ctx.lineTo(a.right, py);
    }
    ctx.stroke();
    ctx.restore();
  }
};

Chart.defaults.font.family = "'DejaVu Sans Condensed','DejaVu Sans',sans-serif";
Chart.defaults.font.size = 11;
Chart.defaults.color = '#ffffff';

new Chart(document.getElementById('chart'), {
  type:'line',
  data:{datasets},
  plugins:[decor],
  options:{
    responsive:false, animation:false, parsing:false, normalized:true,
    layout:{padding:{top:30, left:0, right:0, bottom:0}},
    plugins:{legend:{display:false}, tooltip:{enabled:false}, title:{display:false}},
    scales:{
      x:{type:'linear', min:0, max:396,
         afterFit:s=>{ s.height = 60; },
         grid:{display:false, drawTicks:false}, border:{display:false},
         ticks:{stepSize:24, includeBounds:false, autoSkip:false, maxRotation:0, minRotation:0, padding:7, color:'#ffffff',
                callback:(v)=> (v % 48 === 0 && v/48 < xTickLabels.length) ? xTickLabels[v/48] : ''}},
      yT:{type:'linear', position:'left', min:-30, max:15,
         afterFit:s=>{ s.width = 163; },
         grid:{display:false, drawTicks:false}, border:{display:false},
         ticks:{stepSize:5, padding:8, color:'#ffffff'}},
      yP:{type:'linear', position:'right', min:0, max:40,
         afterFit:s=>{ s.width = 40; },
         grid:{display:false, drawTicks:false}, border:{display:false},
         ticks:{stepSize:10, padding:6, color:'#ffffff'}}
    }
  }
});
</script>
</body>
</html>
